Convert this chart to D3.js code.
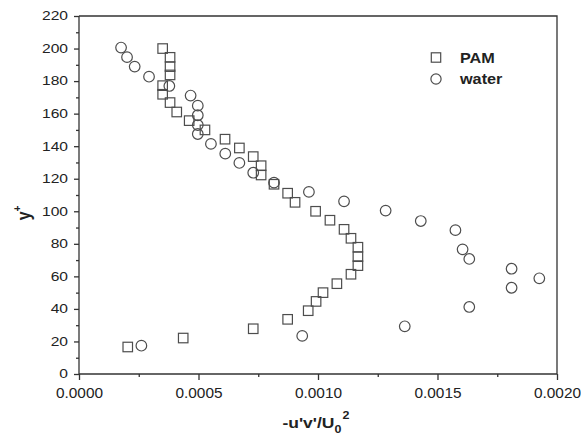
<!DOCTYPE html>
<html><head><meta charset="utf-8">
<script src="https://cdn.jsdelivr.net/npm/d3@7"></script>
<style>
body{margin:0;background:#fff;}
text{font-family:"Liberation Sans",Arial,sans-serif;fill:#222;}
</style></head>
<body><svg id="c" width="581" height="435"></svg>
<script>
const pamX = [0.000204,0.000436,0.000729,0.000873,0.000959,0.000992,0.001021,0.001079,0.001138,0.001167,0.001167,0.001167,0.001138,0.001109,0.001050,0.000990,0.000904,0.000873,0.000816,0.000762,0.000762,0.000729,0.000671,0.000611,0.000527,0.000461,0.000409,0.000381,0.000350,0.000350,0.000381,0.000381,0.000381,0.000350];
const pamY = [16.6,22.1,27.8,33.6,38.9,44.6,50.0,55.5,61.3,66.6,72.1,77.9,83.4,88.9,94.5,100.0,105.5,111.1,116.6,122.3,128.0,133.6,138.9,144.3,150.0,155.7,161.0,166.8,171.9,177.2,183.8,188.9,194.6,200.0];
const waterX = [0.000261,0.000934,0.001363,0.001633,0.001810,0.001926,0.001810,0.001633,0.001605,0.001575,0.001430,0.001283,0.001109,0.000962,0.000816,0.000729,0.000671,0.000612,0.000552,0.000497,0.000497,0.000497,0.000497,0.000467,0.000378,0.000293,0.000233,0.000201,0.000176];
const waterY = [17.4,23.4,29.3,41.2,53.0,58.8,64.7,70.7,76.6,88.4,94.0,100.4,106.1,111.9,117.6,123.7,129.7,135.4,141.4,147.5,153.0,159.0,164.9,171.1,177.0,182.7,188.9,194.7,200.6];
const xTicks = [0,0.0005,0.001,0.0015,0.002];
const xTickLabels = ["0.0000","0.0005","0.0010","0.0015","0.0020"];
const yTicks = [0,20,40,60,80,100,120,140,160,180,200,220];
const seriesNames = ["PAM","water"];

const svg = d3.select("#c");
const L=79, R=557, T=16, B=374;
const x = d3.scaleLinear().domain([0,0.002]).range([L,R]);
const y = d3.scaleLinear().domain([0,220]).range([B,T]);
const axisColor="#333";

// stretch text horizontally around its anchor x
function stretch(sel, sx){
  sel.each(function(){
    const t=d3.select(this);
    const ax=+(t.attr("x")||0);
    const prev=t.attr("transform")||"";
    t.attr("transform",`${prev} translate(${ax},0) scale(${sx},1) translate(${-ax},0)`);
  });
}

const xMinor = d3.range(0,4).map(i=>0.00025+i*0.0005);
const yMinor = d3.range(10,220,20);

const gx = svg.append("g").attr("transform",`translate(0,${B})`)
  .call(d3.axisBottom(x).tickValues(xTicks).tickFormat((d,i)=>xTickLabels[i]).tickSize(6).tickPadding(8));
const gxm = svg.append("g").attr("transform",`translate(0,${B})`)
  .call(d3.axisBottom(x).tickValues(xMinor).tickFormat("").tickSize(3));
const gy = svg.append("g").attr("transform",`translate(${L},0)`)
  .call(d3.axisLeft(y).tickValues(yTicks).tickSize(5).tickPadding(6));
const gym = svg.append("g").attr("transform",`translate(${L},0)`)
  .call(d3.axisLeft(y).tickValues(yMinor).tickFormat("").tickSize(3));
[gx,gxm,gy,gym].forEach(g=>{
  g.selectAll("path,line").attr("stroke",axisColor).attr("stroke-width",1.3);
  g.selectAll("text").attr("fill","#222").style("font-family","Liberation Sans, Arial, sans-serif");
});
gx.selectAll("text").style("font-size","14px");
gy.selectAll("text").style("font-size","12px");
stretch(gx.selectAll("text"),1.1);
stretch(gy.selectAll("text"),1.3);
gxm.select("path").remove(); gym.select("path").remove();
gx.select("path").attr("d",`M${L},0H${R}`);
gy.select("path").attr("d",`M0,${B}V${T}`);
svg.append("path").attr("d",`M${L},${T}H${R}V${B}`).attr("fill","none").attr("stroke",axisColor).attr("stroke-width",1.3);

const markColor="#4d4d4d";
const s=9.5;
svg.append("g").selectAll("rect").data(pamX.map((v,i)=>[v,pamY[i]])).join("rect")
  .attr("x",d=>x(d[0])-s/2).attr("y",d=>y(d[1])-s/2).attr("width",s).attr("height",s)
  .attr("fill","none").attr("stroke",markColor).attr("stroke-width",1.2);
svg.append("g").selectAll("circle").data(waterX.map((v,i)=>[v,waterY[i]])).join("circle")
  .attr("cx",d=>x(d[0])).attr("cy",d=>y(d[1])).attr("r",5.3)
  .attr("fill","none").attr("stroke",markColor).attr("stroke-width",1.2);

// legend
const lg = svg.append("g");
lg.append("rect").attr("x",436-4.7).attr("y",57.5-4.7).attr("width",9.4).attr("height",9.4)
  .attr("fill","none").attr("stroke",markColor).attr("stroke-width",1.2);
lg.append("circle").attr("cx",436).attr("cy",79).attr("r",5.1)
  .attr("fill","none").attr("stroke",markColor).attr("stroke-width",1.2);
const lt = lg.selectAll("text").data(seriesNames).join("text")
  .attr("x",460).attr("y",(d,i)=>i?84:63.3).text(d=>d)
  .style("font-size","14px").style("font-weight","bold");
stretch(lt,1.16);

// axis titles
const xt = svg.append("text").attr("x",316).attr("y",428).attr("text-anchor","middle")
  .style("font-size","14px").style("font-weight","bold");
xt.append("tspan").text("-u'v'/U");
xt.append("tspan").attr("dy",5).style("font-size","10px").text("0");
xt.append("tspan").attr("dy",-14).attr("dx",1).style("font-size","10px").text("2");
stretch(xt,1.25);

const yt = svg.append("text").attr("transform","translate(30,213) scale(1.15,1) rotate(-90)").attr("text-anchor","middle")
  .style("font-size","16px").style("font-weight","bold");
yt.append("tspan").text("y");
yt.append("tspan").attr("dy",-8).style("font-size","10px").text("+");
</script></body></html>
